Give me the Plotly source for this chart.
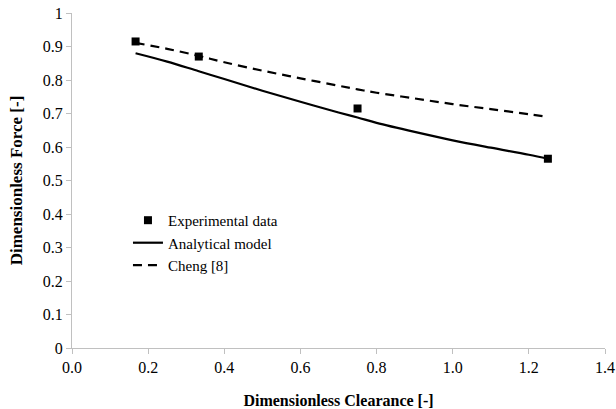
import plotly.graph_objects as go

exp_x = [0.167, 0.333, 0.75, 1.25]
exp_y = [0.915, 0.870, 0.715, 0.565]

model_x = [0.167, 0.25, 0.333, 0.4, 0.5, 0.6, 0.7, 0.75, 0.8, 0.9, 1.0, 1.1, 1.2, 1.25]
analytical_y = [0.880, 0.855, 0.826, 0.803, 0.768, 0.735, 0.703, 0.688, 0.672, 0.645, 0.620, 0.598, 0.577, 0.565]
cheng_y = [0.911, 0.893, 0.872, 0.853, 0.828, 0.805, 0.783, 0.772, 0.762, 0.745, 0.728, 0.713, 0.698, 0.690]

x_ticks = [0.0, 0.2, 0.4, 0.6, 0.8, 1.0, 1.2, 1.4]
y_ticks = [0, 0.1, 0.2, 0.3, 0.4, 0.5, 0.6, 0.7, 0.8, 0.9, 1]

font = "Liberation Serif"

fig = go.Figure()
fig.add_trace(go.Scatter(x=exp_x, y=exp_y, mode="markers", name="Experimental data",
                         marker=dict(symbol="square", size=8, color="black")))
fig.add_trace(go.Scatter(x=model_x, y=analytical_y, mode="lines", name="Analytical model",
                         line=dict(color="black", width=2.2), line_shape="spline"))
fig.add_trace(go.Scatter(x=model_x, y=cheng_y, mode="lines", name="Cheng [8]",
                         line=dict(color="black", width=2.2, dash="9px,6px"), line_shape="spline"))

tickfont = dict(family=font, size=16, color="black")

fig.update_layout(
    width=616, height=409,
    margin=dict(l=72, r=11, t=13, b=61, autoexpand=False),
    paper_bgcolor="white", plot_bgcolor="white",
    font=dict(family=font, size=16, color="black"),
    showlegend=True,
    legend=dict(x=0.105, y=0.43, xanchor="left", yanchor="top",
                bgcolor="rgba(0,0,0,0)", font=dict(size=15, family=font, color="black"),
                tracegroupgap=0, itemwidth=30),
    xaxis=dict(range=[0, 1.4], tickvals=x_ticks, ticktext=[f"{v:.1f}" for v in x_ticks],
               tickfont=tickfont, automargin=False,
               showgrid=False, zeroline=False, showline=True, linecolor="#c0c0c0", linewidth=1,
               ticks="outside", tickcolor="#c0c0c0", ticklen=5,
               title=dict(text="<b>Dimensionless Clearance [-]</b>", standoff=19,
                          font=dict(size=16, family=font, color="black"))),
    yaxis=dict(range=[0, 1], tickvals=y_ticks, ticktext=[f"{v:g}" for v in y_ticks],
               tickfont=tickfont, automargin=False,
               showgrid=False, zeroline=False, showline=True, linecolor="#c0c0c0", linewidth=1,
               ticks="outside", tickcolor="#c0c0c0", ticklen=5,
               title=dict(text="<b>Dimensionless Force [-]</b>", standoff=15,
                          font=dict(size=17, family=font, color="black"))),
)

fig.write_html("out.html", config={"displayModeBar": False},
               post_script="document.body.style.margin='0';document.body.style.padding='0';")
